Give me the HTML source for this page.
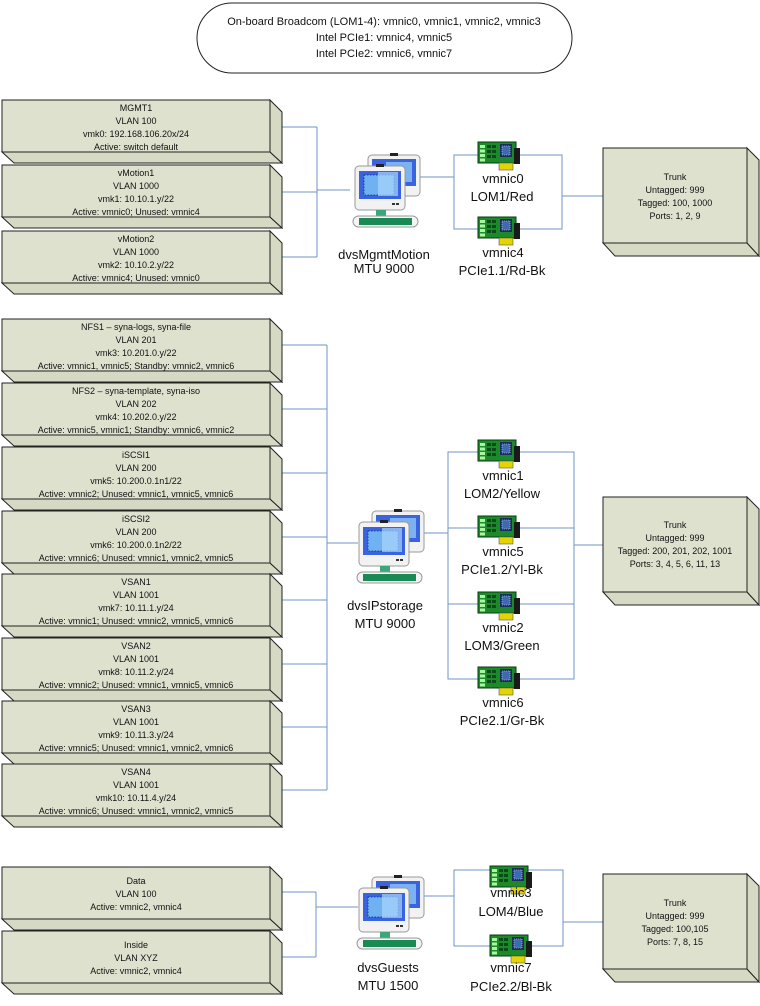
<!DOCTYPE html>
<html><head><meta charset="utf-8"><style>
html,body{margin:0;padding:0;background:#fff}
svg{display:block}
text{font-family:"Liberation Sans",sans-serif;fill:#111}
.b{font-size:9px}
.s{font-size:13px}
.n{font-size:13px}
</style></head><body>
<svg width="760" height="1006" viewBox="0 0 760 1006" xmlns="http://www.w3.org/2000/svg">
<defs>
<g id="box">
<polygon points="0,52 268,52 280,63 12,63" fill="#d6d9c3" stroke="#222" stroke-width="1"/>
<polygon points="268,0 280,12 280,63 268,52" fill="#d6d9c3" stroke="#222" stroke-width="1"/>
<rect x="0" y="0" width="268" height="52" fill="#dfe1cf" stroke="#222" stroke-width="1"/>
</g>
<g id="trunk">
<polygon points="0,95 144,95 156,108 12,108" fill="#d6d9c3" stroke="#222"/>
<polygon points="144,0 156,12 156,108 144,95" fill="#d6d9c3" stroke="#222"/>
<rect x="0" y="0" width="144" height="95" fill="#dfe1cf" stroke="#222"/>
</g>
<g id="sw">
<rect x="20" y="5" width="52" height="41" rx="4" fill="#f2f2f2" stroke="#999"/>
<rect x="24" y="9" width="44" height="27" fill="#3a63e0"/>
<rect x="38" y="12" width="26" height="20" fill="#8fc6f5" opacity="0.8"/>
<rect x="42" y="3" width="8" height="3" fill="#222"/>
<rect x="7" y="16" width="50" height="44" rx="4" fill="#f2f2f2" stroke="#999"/>
<rect x="11" y="21" width="42" height="28" fill="#3a63e0"/>
<rect x="16" y="25" width="30" height="20" fill="#6fb2f2" stroke="#0a2a80" stroke-dasharray="1.5,1.5" stroke-width="0.8"/>
<rect x="30" y="22" width="20" height="24" fill="#a9d5fb" opacity="0.7"/>
<rect x="28" y="14" width="8" height="3" fill="#222"/>
<rect x="44" y="53" width="3" height="2" fill="#333"/><rect x="48" y="53" width="3" height="2" fill="#333"/>
<rect x="28" y="60" width="10" height="7" fill="#3aa67a"/>
<rect x="5" y="66" width="65" height="11" rx="5.5" fill="#f4f4f4" stroke="#999"/>
<rect x="11" y="68" width="53" height="7" fill="#1a8a55"/>
</g>
<g id="nic">
<rect x="0" y="0" width="38" height="21" fill="#1c8a2a" stroke="#0a3a10" stroke-width="1"/>
<rect x="36" y="6" width="6" height="16" fill="#1a1a1a"/>
<rect x="2" y="3" width="5" height="3" fill="#aaf5a0"/><rect x="2" y="7.5" width="5" height="3" fill="#aaf5a0"/><rect x="2" y="12" width="5" height="3" fill="#aaf5a0"/><rect x="2" y="16.5" width="5" height="3" fill="#aaf5a0"/>
<rect x="9" y="3" width="4" height="3" fill="#0c4a18"/><rect x="14" y="3" width="4" height="3" fill="#0c4a18"/><rect x="9" y="8" width="4" height="3" fill="#0c4a18"/><rect x="14" y="8" width="4" height="3" fill="#0c4a18"/><rect x="9" y="13" width="4" height="3" fill="#0c4a18"/><rect x="14" y="13" width="4" height="3" fill="#0c4a18"/>
<rect x="22" y="2" width="12" height="13" fill="#1b2e5a"/>
<rect x="24" y="4" width="8" height="9" fill="#3f6ab0" stroke="#cde" stroke-dasharray="1,1" stroke-width="0.6"/>
<rect x="21" y="21" width="14" height="7" fill="#e6d400" stroke="#555" stroke-width="0.6"/>
</g>
</defs>

<!-- header -->
<rect x="197" y="3" width="375" height="70" rx="35" fill="#fff" stroke="#222"/>
<text x="384" y="25" text-anchor="middle" style="font-size:11px">On-board Broadcom (LOM1-4): vmnic0, vmnic1, vmnic2, vmnic3</text>
<text x="384" y="41" text-anchor="middle" style="font-size:11px">Intel PCIe1: vmnic4, vmnic5</text>
<text x="384" y="57" text-anchor="middle" style="font-size:11px">Intel PCIe2: vmnic6, vmnic7</text>

<g stroke="#6f95c4" stroke-width="1" fill="none">
<!-- top -->
<path d="M270 127H317M270 192H317M270 257H317M317 127V257M317 190H350"/>
<path d="M418 177H454M454 155H562V229H454ZM562 196H603"/>
<!-- storage -->
<path d="M270 345H327M270 409H327M270 473H327M270 537H327M270 600H327M270 664H327M270 727H327M270 790H327M327 345V790M327 543H358"/>
<path d="M418 533H448M448 452H574V679H448ZM448 528H574M448 604H574M574 545H603"/>
<!-- guests -->
<path d="M270 892H316M270 957H316M316 892V957M316 907H358"/>
<path d="M418 896H454M454 870H563V946H454ZM563 922H603"/>
</g>

<!-- boxes top -->
<use href="#box" x="2" y="100"/>
<text class="b" text-anchor="middle" x="136" y="111">MGMT1</text>
<text class="b" text-anchor="middle" x="136" y="124">VLAN 100</text>
<text class="b" text-anchor="middle" x="136" y="137">vmk0: 192.168.106.20x/24</text>
<text class="b" text-anchor="middle" x="136" y="150">Active: switch default</text>
<use href="#box" x="2" y="165"/>
<text class="b" text-anchor="middle" x="136" y="176">vMotion1</text>
<text class="b" text-anchor="middle" x="136" y="189">VLAN 1000</text>
<text class="b" text-anchor="middle" x="136" y="202">vmk1: 10.10.1.y/22</text>
<text class="b" text-anchor="middle" x="136" y="215">Active: vmnic0; Unused: vmnic4</text>
<use href="#box" x="2" y="231"/>
<text class="b" text-anchor="middle" x="136" y="242">vMotion2</text>
<text class="b" text-anchor="middle" x="136" y="255">VLAN 1000</text>
<text class="b" text-anchor="middle" x="136" y="268">vmk2: 10.10.2.y/22</text>
<text class="b" text-anchor="middle" x="136" y="281">Active: vmnic4; Unused: vmnic0</text>

<!-- storage boxes -->
<use href="#box" x="2" y="319"/>
<text class="b" text-anchor="middle" x="136" y="330">NFS1 – syna-logs, syna-file</text>
<text class="b" text-anchor="middle" x="136" y="343">VLAN 201</text>
<text class="b" text-anchor="middle" x="136" y="356">vmk3: 10.201.0.y/22</text>
<text class="b" text-anchor="middle" x="136" y="369">Active: vmnic1, vmnic5; Standby: vmnic2, vmnic6</text>
<use href="#box" x="2" y="383"/>
<text class="b" text-anchor="middle" x="136" y="394">NFS2 – syna-template, syna-iso</text>
<text class="b" text-anchor="middle" x="136" y="407">VLAN 202</text>
<text class="b" text-anchor="middle" x="136" y="420">vmk4: 10.202.0.y/22</text>
<text class="b" text-anchor="middle" x="136" y="433">Active: vmnic5, vmnic1; Standby: vmnic6, vmnic2</text>
<use href="#box" x="2" y="447"/>
<text class="b" text-anchor="middle" x="136" y="458">iSCSI1</text>
<text class="b" text-anchor="middle" x="136" y="471">VLAN 200</text>
<text class="b" text-anchor="middle" x="136" y="484">vmk5: 10.200.0.1n1/22</text>
<text class="b" text-anchor="middle" x="136" y="497">Active: vmnic2; Unused: vmnic1, vmnic5, vmnic6</text>
<use href="#box" x="2" y="511"/>
<text class="b" text-anchor="middle" x="136" y="522">iSCSI2</text>
<text class="b" text-anchor="middle" x="136" y="535">VLAN 200</text>
<text class="b" text-anchor="middle" x="136" y="548">vmk6: 10.200.0.1n2/22</text>
<text class="b" text-anchor="middle" x="136" y="561">Active: vmnic6; Unused: vmnic1, vmnic2, vmnic5</text>
<use href="#box" x="2" y="574"/>
<text class="b" text-anchor="middle" x="136" y="585">VSAN1</text>
<text class="b" text-anchor="middle" x="136" y="598">VLAN 1001</text>
<text class="b" text-anchor="middle" x="136" y="611">vmk7: 10.11.1.y/24</text>
<text class="b" text-anchor="middle" x="136" y="624">Active: vmnic1; Unused: vmnic2, vmnic5, vmnic6</text>
<use href="#box" x="2" y="638"/>
<text class="b" text-anchor="middle" x="136" y="649">VSAN2</text>
<text class="b" text-anchor="middle" x="136" y="662">VLAN 1001</text>
<text class="b" text-anchor="middle" x="136" y="675">vmk8: 10.11.2.y/24</text>
<text class="b" text-anchor="middle" x="136" y="688">Active: vmnic2; Unused: vmnic1, vmnic5, vmnic6</text>
<use href="#box" x="2" y="701"/>
<text class="b" text-anchor="middle" x="136" y="712">VSAN3</text>
<text class="b" text-anchor="middle" x="136" y="725">VLAN 1001</text>
<text class="b" text-anchor="middle" x="136" y="738">vmk9: 10.11.3.y/24</text>
<text class="b" text-anchor="middle" x="136" y="751">Active: vmnic5; Unused: vmnic1, vmnic2, vmnic6</text>
<use href="#box" x="2" y="764"/>
<text class="b" text-anchor="middle" x="136" y="775">VSAN4</text>
<text class="b" text-anchor="middle" x="136" y="788">VLAN 1001</text>
<text class="b" text-anchor="middle" x="136" y="801">vmk10: 10.11.4.y/24</text>
<text class="b" text-anchor="middle" x="136" y="814">Active: vmnic6; Unused: vmnic1, vmnic2, vmnic5</text>

<!-- guest boxes -->
<use href="#box" x="2" y="867"/>
<text class="b" text-anchor="middle" x="136" y="884">Data</text>
<text class="b" text-anchor="middle" x="136" y="897">VLAN 100</text>
<text class="b" text-anchor="middle" x="136" y="910">Active: vmnic2, vmnic4</text>
<use href="#box" x="2" y="931"/>
<text class="b" text-anchor="middle" x="136" y="948">Inside</text>
<text class="b" text-anchor="middle" x="136" y="961">VLAN XYZ</text>
<text class="b" text-anchor="middle" x="136" y="974">Active: vmnic2, vmnic4</text>

<!-- switches -->
<use href="#sw" x="348" y="150"/>
<text class="s" text-anchor="middle" x="384" y="259">dvsMgmtMotion</text>
<text class="s" text-anchor="middle" x="384" y="273">MTU 9000</text>
<use href="#sw" x="352" y="506"/>
<text class="s" text-anchor="middle" x="385" y="610">dvsIPstorage</text>
<text class="s" text-anchor="middle" x="385" y="628">MTU 9000</text>
<use href="#sw" x="352" y="872"/>
<text class="s" text-anchor="middle" x="388" y="972">dvsGuests</text>
<text class="s" text-anchor="middle" x="388" y="990">MTU 1500</text>

<!-- NICs top -->
<use href="#nic" x="478" y="142"/>
<text class="n" text-anchor="middle" x="503" y="183">vmnic0</text>
<text class="n" text-anchor="middle" x="502" y="201">LOM1/Red</text>
<use href="#nic" x="478" y="217"/>
<text class="n" text-anchor="middle" x="503" y="257">vmnic4</text>
<text class="n" text-anchor="middle" x="502" y="275">PCIe1.1/Rd-Bk</text>
<!-- NICs storage -->
<use href="#nic" x="478" y="440"/>
<text class="n" text-anchor="middle" x="503" y="480">vmnic1</text>
<text class="n" text-anchor="middle" x="502" y="498">LOM2/Yellow</text>
<use href="#nic" x="478" y="516"/>
<text class="n" text-anchor="middle" x="503" y="556">vmnic5</text>
<text class="n" text-anchor="middle" x="502" y="574">PCIe1.2/Yl-Bk</text>
<use href="#nic" x="478" y="592"/>
<text class="n" text-anchor="middle" x="503" y="632">vmnic2</text>
<text class="n" text-anchor="middle" x="502" y="650">LOM3/Green</text>
<use href="#nic" x="478" y="667"/>
<text class="n" text-anchor="middle" x="503" y="707">vmnic6</text>
<text class="n" text-anchor="middle" x="502" y="725">PCIe2.1/Gr-Bk</text>
<!-- NICs guests -->
<use href="#nic" x="490" y="866"/>
<text class="n" text-anchor="middle" x="511" y="897">vmnic3</text>
<text class="n" text-anchor="middle" x="511" y="916">LOM4/Blue</text>
<use href="#nic" x="490" y="935"/>
<text class="n" text-anchor="middle" x="511" y="972">vmnic7</text>
<text class="n" text-anchor="middle" x="511" y="991">PCIe2.2/Bl-Bk</text>

<!-- trunks -->
<use href="#trunk" x="603" y="148"/>
<text class="b" text-anchor="middle" x="675" y="180">Trunk</text>
<text class="b" text-anchor="middle" x="675" y="193">Untagged: 999</text>
<text class="b" text-anchor="middle" x="675" y="206">Tagged: 100, 1000</text>
<text class="b" text-anchor="middle" x="675" y="219">Ports: 1, 2, 9</text>
<use href="#trunk" x="603" y="497"/>
<text class="b" text-anchor="middle" x="675" y="528">Trunk</text>
<text class="b" text-anchor="middle" x="675" y="541">Untagged: 999</text>
<text class="b" text-anchor="middle" x="675" y="554">Tagged: 200, 201, 202, 1001</text>
<text class="b" text-anchor="middle" x="675" y="567">Ports: 3, 4, 5, 6, 11, 13</text>
<use href="#trunk" x="603" y="874"/>
<text class="b" text-anchor="middle" x="675" y="906">Trunk</text>
<text class="b" text-anchor="middle" x="675" y="919">Untagged: 999</text>
<text class="b" text-anchor="middle" x="675" y="932">Tagged:  100,105</text>
<text class="b" text-anchor="middle" x="675" y="945">Ports: 7, 8, 15</text>
</svg>
</body></html>
